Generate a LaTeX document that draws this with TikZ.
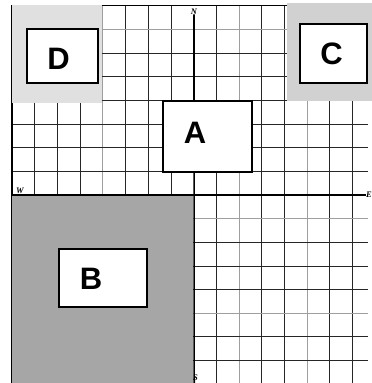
\documentclass[tikz,border=0pt]{standalone}
\usepackage{fontspec}
\setmainfont{Liberation Sans}
\newfontfamily\axisfont{Liberation Serif}
\usetikzlibrary{positioning}

\tikzset{
    gridline/.style={draw=black!85, line width=0.7pt},
    gridlight/.style={draw=black!38, line width=0.9pt},
    frame/.style={draw=black, line width=1.3pt},
    axis/.style={draw=black, line width=1.6pt},
    zonebox/.style={draw=black, fill=white, line width=1.5pt, inner sep=0pt},
    letter/.style={font=\fontsize{31}{31}\selectfont\bfseries, inner sep=0pt},
    dirlabel/.style={font=\axisfont\fontsize{8.5}{8.5}\selectfont\bfseries\itshape, inner sep=0pt}
}

\begin{document}
\begin{tikzpicture}[x=1pt, y=-1pt]
    \useasboundingbox (0,0) rectangle (372,383);

    % grid, 16 columns by 16 rows
    \foreach \i in {1,2,3,5,6,7,9,11,12,14,15}
        \draw[gridline] ({12+22.7*\i},5.7) -- ++(0,377.3);
    \foreach \i in {4,10,13}
        \draw[gridlight] ({12+22.7*\i},5.7) -- ++(0,377.3);
    \foreach \j in {2,3,4,5,6,7,10,11,12,14,15}
        \draw[gridline] (12,{5.7+23.65*\j}) -- (368,{5.7+23.65*\j});
    \foreach \j in {1,9,13}
        \draw[gridlight] (12,{5.7+23.65*\j}) -- (368,{5.7+23.65*\j});

    % outer frame
    \draw[frame] (12,383) -- (12,5.7) -- (368,5.7);

    % shaded zones
    \fill[black!12] (12,4.5) rectangle (102,103);
    \fill[black!18] (287,3) rectangle (372,101);
    \fill[black!35] (12,195.8) rectangle (192.6,383);

    % compass
    \node[dirlabel] (N) at (194,11.5) {N};
    \node[dirlabel] (W) at (20,191) {W};
    \node[dirlabel] (E) at (369,195) {E};
    \coordinate (west) at (12,195);
    \coordinate (south) at (194.2,383);

    \draw[axis] (N.south) -- (south);
    \draw[axis] (west) -- (E.west);
    \node[dirlabel] (S) at (195.5,378) {S};

    % zones
    \node[zonebox, minimum width=71pt, minimum height=54pt] (D) at (62.5,56) {};
    \node[zonebox, minimum width=67pt, minimum height=59pt] (C) at (333.5,53.5) {};
    \node[zonebox, minimum width=89pt, minimum height=71pt] (A) at (207.5,136.5) {};
    \node[zonebox, minimum width=88pt, minimum height=58pt] (B) at (103,278) {};

    \node[letter] (Dtxt) at (58.5,59) {D};
    \node[letter] (Ctxt) at (331.5,54) {C};
    \node[letter] (Atxt) at (195,132.5) {A};
    \node[letter] (Btxt) at (91,278.5) {B};
\end{tikzpicture}
\end{document}
